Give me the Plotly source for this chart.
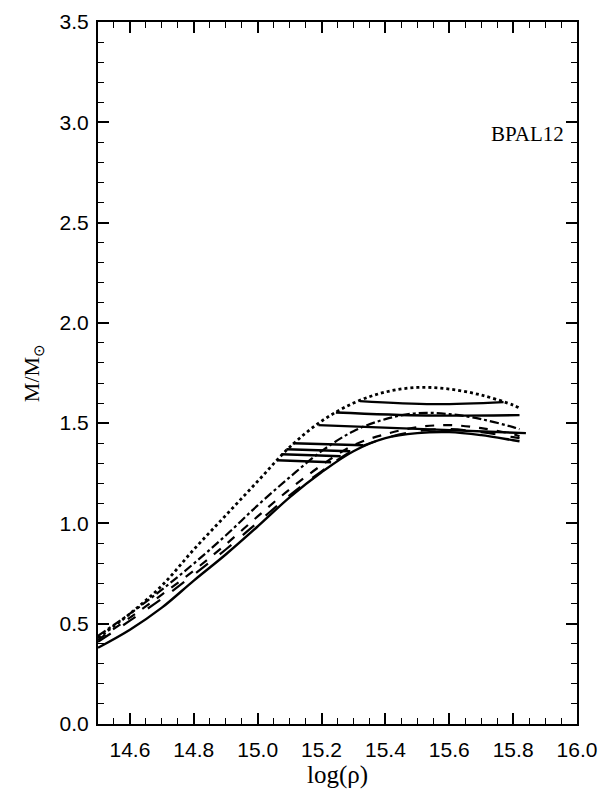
import plotly.graph_objects as go

# Mass of the stellar models vs log of central density (EOS BPAL12)
log_rho = [14.5, 14.6, 14.7, 14.8, 14.9, 15.0, 15.1, 15.2, 15.3, 15.4, 15.5, 15.6, 15.7, 15.8, 15.82]

mass_dotted = [0.43, 0.55, 0.69, 0.87, 1.04, 1.21, 1.38, 1.51, 1.60, 1.655, 1.678, 1.67, 1.64, 1.59, 1.575]
mass_dashdot = [0.44, 0.55, 0.67, 0.80, 0.94, 1.09, 1.23, 1.36, 1.46, 1.52, 1.55, 1.545, 1.52, 1.48, 1.47]
mass_dash = [0.42, 0.53, 0.645, 0.765, 0.895, 1.035, 1.17, 1.29, 1.39, 1.445, 1.48, 1.49, 1.475, 1.445, 1.435]
mass_longdash = [0.41, 0.515, 0.625, 0.745, 0.87, 1.005, 1.14, 1.26, 1.365, 1.425, 1.46, 1.47, 1.455, 1.43, 1.425]
mass_solid = [0.38, 0.47, 0.58, 0.715, 0.845, 0.985, 1.13, 1.255, 1.36, 1.425, 1.45, 1.455, 1.44, 1.415, 1.41]

# Nearly horizontal connecting lines: (x start, x mid, x end), (y start, y mid, y end)
link_x = [
    [15.32, 15.55, 15.77],
    [15.245, 15.53, 15.82],
    [15.19, 15.52, 15.84],
    [15.11, 15.22, 15.33],
    [15.09, 15.19, 15.29],
    [15.075, 15.17, 15.26],
    [15.06, 15.145, 15.23],
]
link_y = [
    [1.61, 1.595, 1.605],
    [1.553, 1.538, 1.54],
    [1.49, 1.47, 1.45],
    [1.40, 1.395, 1.39],
    [1.37, 1.365, 1.36],
    [1.345, 1.34, 1.335],
    [1.315, 1.31, 1.305],
]

label_text = "BPAL12"
label_pos = (15.965, 2.94)

fig = go.Figure()

curves = [
    (mass_dotted, "dot", 2.8),
    (mass_dashdot, "dashdot", 2.2),
    (mass_dash, "dash", 2.2),
    (mass_longdash, "longdash", 2.2),
    (mass_solid, "solid", 2.4),
]
for ys, dash, w in curves:
    fig.add_trace(go.Scatter(x=log_rho, y=ys, mode="lines",
                             line=dict(color="black", width=w, dash=dash, shape="spline"),
                             showlegend=False, hoverinfo="skip"))

for xs, ys in zip(link_x, link_y):
    fig.add_trace(go.Scatter(x=xs, y=ys, mode="lines",
                             line=dict(color="black", width=2.4, shape="spline"),
                             showlegend=False, hoverinfo="skip"))

fig.add_annotation(x=label_pos[0], y=label_pos[1], text=label_text, showarrow=False,
                   xanchor="right", yanchor="middle",
                   font=dict(family="Liberation Serif", size=21, color="black"))

tick_font = dict(family="Liberation Sans", size=21, color="black")
axis_common = dict(
    showgrid=False, zeroline=False, showline=True, linecolor="black", linewidth=2,
    mirror="allticks", ticks="inside", ticklen=11, tickwidth=1.6, tickcolor="black",
    tickfont=tick_font, tickformat=".1f",
)

fig.update_xaxes(
    range=[14.5, 16.0], tick0=14.6, dtick=0.2,
    minor=dict(dtick=0.05, tick0=14.5, ticks="inside", ticklen=6, tickwidth=1.3, tickcolor="black"),
    title=dict(text="log(ρ)", font=dict(family="Liberation Serif", size=25, color="black"), standoff=2),
    ticklabelstandoff=6,
    **axis_common,
)
fig.update_yaxes(
    range=[0, 3.5], tick0=0, dtick=0.5,
    minor=dict(dtick=0.1, ticks="inside", ticklen=6, tickwidth=1.3, tickcolor="black"),
    title=dict(text="M/M<sub>⊙</sub>", font=dict(family="Liberation Serif", size=22, color="black"), standoff=14),
    ticklabelstandoff=3,
    **axis_common,
)

fig.update_layout(
    width=611, height=800,
    margin=dict(l=98, r=34, t=10, b=76),
    paper_bgcolor="white", plot_bgcolor="white",
)

fig.write_html("out.html")
